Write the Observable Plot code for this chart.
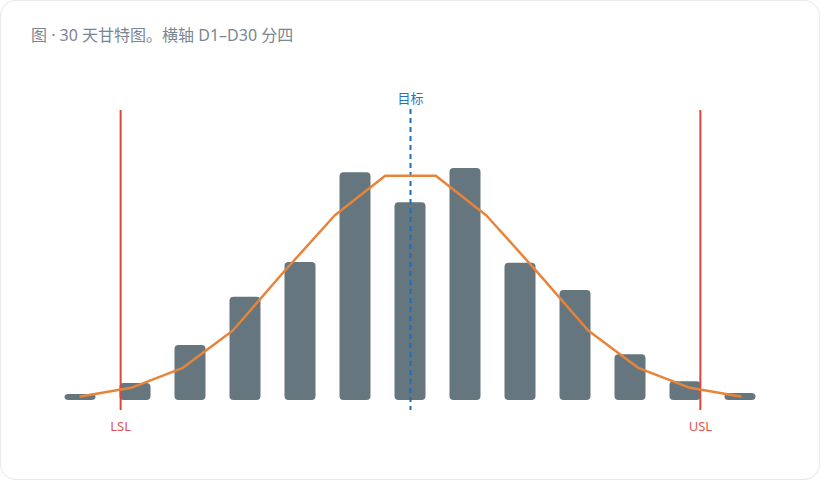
<!DOCTYPE html>
<html>
<head>
<meta charset="utf-8">
<script src="https://cdn.jsdelivr.net/npm/d3@7"></script>
<script src="https://cdn.jsdelivr.net/npm/@observablehq/plot@0.6"></script>
<style>
  html, body { margin: 0; padding: 0; background: #ffffff; }
  #card {
    position: relative; width: 820px; height: 480px; box-sizing: border-box;
    border-radius: 16px; box-shadow: inset 0 0 0 1px #e6e9ee; background: #fff; overflow: hidden;
    font-family: "Noto Sans", "Noto Sans CJK SC", sans-serif;
  }
  #title {
    height: 60px; box-sizing: border-box; padding: 24px 0 0 31px;
    font-size: 16px; line-height: 22px; color: #7b8693;
  }
  #chart svg { display: block; }
</style>
</head>
<body>
<div id="card">
  <div id="title">图 · 30 天甘特图。横轴 D1–D30 分四</div>
  <div id="chart"></div>
</div>
<script>
// histogram bins (measurement units)
const binStart = [9.35, 9.45, 9.55, 9.65, 9.75, 9.85, 9.95, 10.05, 10.15, 10.25, 10.35, 10.45, 10.55];
const binWidth = 0.1;
const counts   = [1, 2.8, 9, 16.9, 22.6, 37.3, 32.4, 38, 22.5, 18, 7.5, 3.06, 1.15];
// fitted normal curve
const curveX = [9.400, 9.492, 9.585, 9.677, 9.769, 9.862, 9.954, 10.046, 10.138, 10.231, 10.323, 10.415, 10.508, 10.600];
const curveY = [0.66, 2.08, 5.29, 11.47, 21.0, 30.3, 36.8, 36.8, 30.3, 21.0, 11.47, 5.29, 2.08, 0.66];
// spec limits
const specNames = ["LSL", "USL"];
const specValues = [9.473, 10.527];
const targetName = "目标";
const targetValue = 10.0;

const bars = binStart.map((s, i) => ({x1: s, x2: s + binWidth, count: counts[i]}));
const curve = curveX.map((x, i) => ({x, y: curveY[i]}));
const specs = specNames.map((n, i) => ({name: n, value: specValues[i]}));

const chart = Plot.plot({
  width: 820,
  height: 420,
  marginLeft: 52.5,
  marginRight: 52.5,
  marginTop: 50,
  marginBottom: 80,
  style: {background: "transparent", fontFamily: "'Noto Sans', 'Noto Sans CJK SC', sans-serif"},
  x: {domain: [9.35, 10.65], axis: null},
  y: {domain: [0, 47.5], axis: null},
  marks: [
    Plot.rectY(bars, {x1: "x1", x2: "x2", y1: 0, y2: "count", fill: "#66767f", insetLeft: 12, insetRight: 12, rx: 4}),
    Plot.ruleX(specs, {x: "value", stroke: "#e0453b", strokeWidth: 2, insetBottom: -10}),
    Plot.text(specs, {x: "value", text: "name", frameAnchor: "bottom", lineAnchor: "middle", dy: 26, fill: "#e0554b", fontSize: 13}),
    Plot.ruleX([targetValue], {x: d => d, stroke: "#1f6fb8", strokeWidth: 2, strokeDasharray: "5,4", insetTop: -1, insetBottom: -10}),
    Plot.text([targetName], {x: () => targetValue, text: d => d, frameAnchor: "top", lineAnchor: "middle", dy: -12, fill: "#2a74bb", fontSize: 13}),
    Plot.line(curve, {x: "x", y: "y", stroke: "#e8843a", strokeWidth: 2.5, curve: "linear"})
  ]
});
document.getElementById("chart").appendChild(chart);
</script>
</body>
</html>
